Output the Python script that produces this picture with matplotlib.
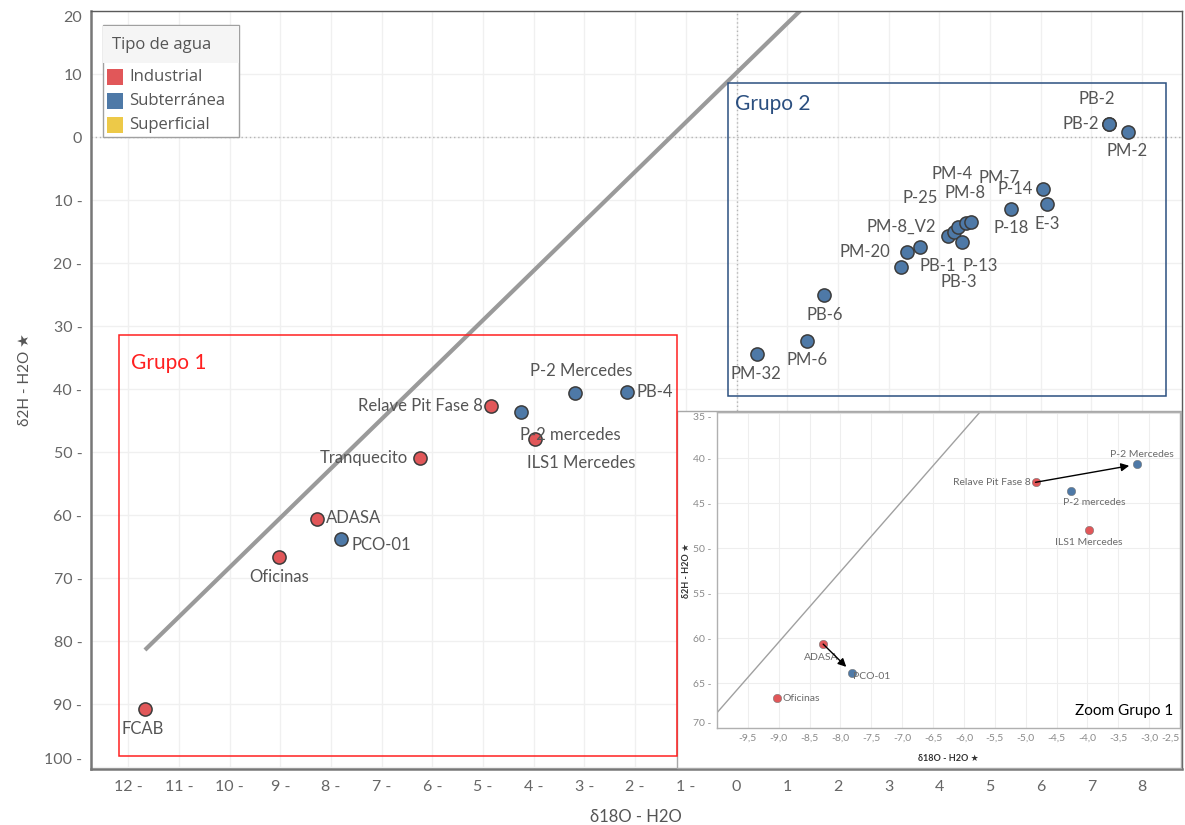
import matplotlib
matplotlib.use("Agg")
import matplotlib.pyplot as plt
from matplotlib.patches import Rectangle
import numpy as np

plt.rcParams['font.family'] = ['Lato', 'DejaVu Sans']

# ---------------- data ----------------
station = [
    "FCAB", "Oficinas", "ADASA", "PCO-01", "Tranquecito", "Relave Pit Fase 8",
    "P-2 mercedes", "ILS1 Mercedes", "P-2 Mercedes", "PB-4",
    "PM-32", "PM-6", "PB-6", "PB-1", "PM-20", "PM-8_V2", "P-25", "PB-3",
    "PM-4", "PM-8", "PM-7", "P-13", "P-18", "P-14", "E-3", "PB-2", "PB-2", "PM-2",
]
water_type = [
    "Industrial", "Industrial", "Industrial", "Subterránea", "Industrial", "Industrial",
    "Subterránea", "Industrial", "Subterránea", "Subterránea",
    "Subterránea", "Subterránea", "Subterránea", "Subterránea", "Subterránea",
    "Subterránea", "Subterránea", "Subterránea", "Subterránea", "Subterránea",
    "Subterránea", "Subterránea", "Subterránea", "Subterránea", "Subterránea",
    "Subterránea", "Subterránea", "Subterránea",
]
d18o = [-11.67, -9.02, -8.28, -7.81, -6.24, -4.84,
        -4.26, -3.98, -3.19, -2.17,
        0.41, 1.385, 1.73, 3.24, 3.36, 3.61, 4.18, 4.29,
        4.375, 4.53, 4.62, 4.44, 5.42, 6.04, 6.13, 7.34, 7.34, 7.72]
d2h = [-90.8, -66.7, -60.67, -63.85, -50.95, -42.67,
       -43.6, -48.0, -40.67, -40.4,
       -34.4, -32.3, -25.0, -20.68, -18.25, -17.41, -15.67, -15.03,
       -14.33, -13.70, -13.44, -16.71, -11.43, -8.3, -10.59, 2.02, 2.02, 0.79]

type_names = ["Industrial", "Subterránea", "Superficial"]
type_colors = ["#E15759", "#4E79A7", "#EDC948"]

# meteoric water line  d2H = a * d18O + b
lmwl_slope = 7.85
lmwl_intercept = 10.2
lmwl_x_range = [-11.67, 2.0]

x_ticks = list(range(-12, 9))
y_ticks = list(range(-100, 21, 10))

inset_x_ticks = [-9.5, -9.0, -8.5, -8.0, -7.5, -7.0, -6.5, -6.0, -5.5,
                 -5.0, -4.5, -4.0, -3.5, -3.0, -2.5]
inset_y_ticks = [-70, -65, -60, -55, -50, -45, -40, -35]
inset_stations = ["Oficinas", "ADASA", "PCO-01", "Relave Pit Fase 8",
                  "P-2 mercedes", "ILS1 Mercedes", "P-2 Mercedes"]
inset_arrows = [("Relave Pit Fase 8", "P-2 Mercedes"), ("ADASA", "PCO-01")]

# label placement (pixel offsets from the mark, alignment)
label_pos = [
    (-2, -20, "center"), (0, -20, "center"), (9, 1, "left"), (11, -6, "left"),
    (-12, 0, "right"), (-8, 0, "right"),
    (50, -23, "center"), (46, -24, "center"), (6, 22, "center"), (10, 0, "left"),
    (-1, -20, "center"), (0, -19, "center"), (0, -20, "center"), (19, 1, "left"),
    (-17, 0, "right"), (-18, 20, "center"), (-28, 38, "center"), (5, -50, "center"),
    (-6, 53, "center"), (-1, 30, "center"), (28, 44, "center"), (19, -24, "center"),
    (0, -19, "center"), (-10, 0, "right"), (0, -20, "center"), (-10, 0, "right"),
    (-12, 25, "center"), (-1, -19, "center"),
]
inset_label_pos = {
    "P-2 Mercedes": (4, 10, "center"),
    "Relave Pit Fase 8": (-5, 0, "right"),
    "P-2 mercedes": (23, -12, "center"),
    "ILS1 Mercedes": (0, -12, "center"),
    "ADASA": (-2, -13, "center"),
    "PCO-01": (1, -4, "left"),
    "Oficinas": (5, 0, "left"),
}

# ---------------- figure ----------------
W, H = 1185, 825
fig = plt.figure(figsize=(W / 100, H / 100), dpi=100)
fig.patch.set_facecolor("white")


def fx(px):
    return px / W


def fy(py):
    return 1 - py / H


def fig_rect(x0, y0, x1, y1, **kw):
    return Rectangle((fx(x0), fy(y1)), (x1 - x0) / W, (y1 - y0) / H,
                     transform=fig.transFigure, **kw)


color_of = dict(zip(type_names, type_colors))
xo = np.array(d18o)
yh = np.array(d2h)
wt = np.array(water_type)

# ---- main axes ----
ax = fig.add_axes([fx(90.7), fy(769), (1181.7 - 90.7) / W, (769 - 11) / H])
ax.set_zorder(0)
ax.set_xlim(-12.74, 8.78)
ax.set_ylim(-100.3, 20.0)
ax.set_xticks(x_ticks)
ax.set_xticklabels([f"{abs(v)} -" if v < 0 else f"{v}" for v in x_ticks])
ax.set_yticks(y_ticks)
ax.set_yticklabels([f"{abs(v)} -" if v < 0 else f"{v}" for v in y_ticks])
ax.tick_params(axis="both", length=0, labelsize=11.5, labelcolor="#666666")
ax.tick_params(axis="x", pad=8)
ax.tick_params(axis="y", pad=6)
ylabs = ax.get_yticklabels()
ylabs[-1].set_va("top")
ylabs[0].set_va("bottom")
ax.grid(True, color="#f0f0f0", lw=1)
ax.set_axisbelow(True)
ax.axhline(0, color="#b5b5b5", lw=1, ls=(0, (1, 2)), zorder=1)
ax.axvline(0, color="#b5b5b5", lw=1, ls=(0, (1, 2)), zorder=1)
for s in ("left", "bottom"):
    ax.spines[s].set_color("#777777")
    ax.spines[s].set_linewidth(1.8)
for s in ("top", "right"):
    ax.spines[s].set_color("#5a5a5a")
    ax.spines[s].set_linewidth(1.0)

lx = np.array(lmwl_x_range)
ax.plot(lx, lmwl_slope * lx + lmwl_intercept, color="#9a9a9a", lw=3,
        solid_capstyle="butt", zorder=2)

for name in type_names:
    m = wt == name
    if m.any():
        ax.scatter(xo[m], yh[m], s=90, color=color_of[name], edgecolor="#3c3c3c",
                   linewidth=1.1, zorder=3)

for i, name in enumerate(station):
    dx, dy, ha = label_pos[i]
    ax.annotate(name, (xo[i], yh[i]), xytext=(dx, dy), textcoords="offset pixels",
                ha=ha, va="center", fontsize=12, color="#555555", zorder=4)

ax.set_xlabel("δ18O - H2O", fontsize=12, color="#555555", labelpad=11)
fig.text(fx(25), fy(380), "δ2H - H2O ★", rotation=90, ha="center", va="center",
         fontsize=11, color="#555555")

# legend box
leg_font = ["Open Sans", "DejaVu Sans"]
fig.add_artist(fig_rect(102.7, 25, 239.3, 137.3, facecolor="white",
                        edgecolor="#a0a0a0", lw=1, zorder=0.5))
fig.add_artist(fig_rect(103.3, 25.6, 238.7, 63, facecolor="#f5f5f5",
                        edgecolor="none", zorder=0.6))
fig.text(fx(112), fy(45), "Tipo de agua", fontsize=12, color="#555555",
         ha="left", va="center", family=leg_font, zorder=0.7)
for k, (name, c) in enumerate(zip(type_names, type_colors)):
    yc = 77 + 24 * k
    fig.add_artist(fig_rect(107, yc - 8, 123, yc + 8, facecolor=c,
                            edgecolor="none", zorder=0.7))
    fig.text(fx(129), fy(yc), name, fontsize=12, color="#555555", ha="left",
             va="center", family=leg_font, zorder=0.7)

# group boxes
fig.add_artist(fig_rect(728.3, 83, 1165.5, 395.5, fill=False, edgecolor="#2B4F80",
                        lw=1.1, zorder=0.6))
fig.text(fx(735), fy(104), "Grupo 2", color="#2B4F80", fontsize=15,
         ha="left", va="center")

# ---- inset ----
fig.add_artist(fig_rect(677, 411, 1181, 768, facecolor="white", edgecolor="#a8a8a8",
                        lw=1, zorder=1))
fig.add_artist(fig_rect(119.3, 335, 677, 756, fill=False, edgecolor="#ff2020",
                        lw=1.1, zorder=3))
fig.text(fx(131), fy(363), "Grupo 1", color="#ff2020", fontsize=15,
         ha="left", va="center", zorder=3)

axin = fig.add_axes([fx(717), fy(728), (1180 - 717) / W, (728 - 412) / H])
axin.set_zorder(2)
axin.set_xlim(-10.0, -2.5)
axin.set_ylim(-70, -34.85)
axin.set_xticks(inset_x_ticks)
axin.set_xticklabels([f"{v:.1f}".replace(".", ",") for v in inset_x_ticks])
ixl = axin.get_xticklabels()
ixl[-1].set_ha("right")
axin.set_yticks(inset_y_ticks)
axin.set_yticklabels([f"{abs(v)} -" for v in inset_y_ticks])
iyl = axin.get_yticklabels()
iyl[-1].set_va("top")
iyl[0].set_va("bottom")
axin.tick_params(axis="both", length=0, labelsize=7.5, labelcolor="#8a8a8a", pad=4)
axin.grid(True, color="#eeeeee", lw=0.8)
axin.set_axisbelow(True)
for s in axin.spines.values():
    s.set_color("#b0b0b0")
    s.set_linewidth(1.0)

ix = np.linspace(-10.0, -5.0, 2)
axin.plot(ix, lmwl_slope * ix + lmwl_intercept, color="#a0a0a0", lw=1, zorder=2)

idx = [station.index(n) for n in inset_stations]
for name in type_names:
    sel = [i for i in idx if water_type[i] == name]
    if sel:
        axin.scatter(xo[sel], yh[sel], s=36, color=color_of[name], edgecolor="#777777",
                     linewidth=0.4, zorder=3)
for i in idx:
    dx, dy, ha = inset_label_pos[station[i]]
    axin.annotate(station[i], (xo[i], yh[i]), xytext=(dx, dy), textcoords="offset pixels",
                  ha=ha, va="center", fontsize=7.5, color="#6a6a6a", zorder=4)
for a, b in inset_arrows:
    ia, ib = station.index(a), station.index(b)
    axin.annotate("", xy=(xo[ib], yh[ib]), xytext=(xo[ia], yh[ia]),
                  arrowprops=dict(arrowstyle="-|>", color="black", lw=1.0,
                                  shrinkA=0, shrinkB=6, mutation_scale=12), zorder=5)

axin.set_xlabel("δ18O - H2O ★", fontsize=6.5, color="#333333", fontweight="bold",
                labelpad=8)
fig.text(fx(686), fy(570), "δ2H - H2O ★", rotation=90, ha="center", va="center",
         fontsize=6.5, color="#333333", fontweight="bold", zorder=3)
fig.text(fx(1173), fy(711), "Zoom Grupo 1", ha="right", va="center", fontsize=11,
         color="black", zorder=3)

fig.savefig("out.png", dpi=100)
